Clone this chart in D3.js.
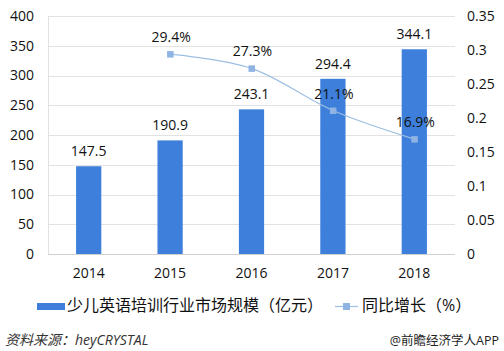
<!DOCTYPE html>
<html>
<head>
<meta charset="utf-8">
<script src="https://cdn.jsdelivr.net/npm/d3@7"></script>
<style>
  body { margin: 0; background: #fff; }
  svg text { font-family: "Open Sans", "Noto Sans CJK SC", sans-serif; }
</style>
</head>
<body>
<div id="chart"></div>
<script>
var years = ["2014", "2015", "2016", "2017", "2018"];
var marketSize = [147.5, 190.9, 243.1, 294.4, 344.1];
var growth = [null, 0.294, 0.273, 0.211, 0.169];
var growthLabels = ["", "29.4%", "27.3%", "21.1%", "16.9%"];
var leftTicks = [0, 50, 100, 150, 200, 250, 300, 350, 400];
var rightTicks = [0, 0.05, 0.1, 0.15, 0.2, 0.25, 0.3, 0.35];

var svg = d3.select("#chart")
  .append("svg")
  .attr("width", 504)
  .attr("height", 351);

// plot area edges (window.top is reserved, so own names)
var plotLeft = 48, plotRight = 455, plotTop = 16, plotBottom = 254;

var x = d3.scaleBand()
  .domain(years)
  .range([plotLeft, plotRight])
  .paddingInner(0.69)
  .paddingOuter(0.345);

var y = d3.scaleLinear().domain([0, 400]).range([plotBottom, plotTop]);
var y2 = d3.scaleLinear().domain([0, 0.35]).range([plotBottom, plotTop]);

// gridlines
svg.append("g")
  .selectAll("line")
  .data(leftTicks)
  .enter()
  .append("line")
  .attr("x1", plotLeft)
  .attr("x2", plotRight)
  .attr("y1", function(d) { return Math.round(y(d)) + 0.5; })
  .attr("y2", function(d) { return Math.round(y(d)) + 0.5; })
  .attr("stroke", function(d) { return d === 0 ? "#d0d0d0" : "#e2e2e2"; })
  .attr("stroke-width", 1);

svg.append("line")
  .attr("x1", plotLeft + 0.5).attr("x2", plotLeft + 0.5)
  .attr("y1", plotTop).attr("y2", plotBottom)
  .attr("stroke", "#e2e2e2");

// left axis
var yAxis = svg.append("g")
  .attr("transform", "translate(34,0)")
  .call(d3.axisLeft(y).tickValues(leftTicks).tickSize(0).tickPadding(0));
yAxis.select(".domain").remove();
yAxis.selectAll("text").style("font-size", "14px").attr("fill", "#111");

// right axis
var yAxis2 = svg.append("g")
  .attr("transform", "translate(467,0)")
  .call(d3.axisRight(y2).tickValues(rightTicks).tickSize(0).tickPadding(0)
    .tickFormat(function(d) { return d3.format("~g")(d); }));
yAxis2.select(".domain").remove();
yAxis2.selectAll("text").style("font-size", "14px").attr("fill", "#111");

// x axis
var xAxis = svg.append("g")
  .attr("transform", "translate(0," + plotBottom + ")")
  .call(d3.axisBottom(x).tickSize(0).tickPadding(14));
xAxis.select(".domain").remove();
xAxis.selectAll("text").style("font-size", "14px").attr("fill", "#111");

// bars
svg.append("g")
  .selectAll("rect")
  .data(marketSize)
  .enter()
  .append("rect")
  .attr("x", function(d, i) { return x(years[i]); })
  .attr("width", x.bandwidth())
  .attr("y", function(d) { return y(d); })
  .attr("height", function(d) { return plotBottom - y(d); })
  .attr("fill", "#3d7fda");

// bar labels
svg.append("g")
  .selectAll("text")
  .data(marketSize)
  .enter()
  .append("text")
  .attr("x", function(d, i) { return x(years[i]) + x.bandwidth() / 2; })
  .attr("y", function(d) { return y(d) - 10; })
  .attr("text-anchor", "middle")
  .style("font-size", "14px")
  .attr("fill", "#111")
  .text(function(d) { return d.toFixed(1); });

// growth line
var pts = years.map(function(yr, i) { return {x: x(yr) + x.bandwidth() / 2, v: growth[i], label: growthLabels[i]}; })
  .filter(function(d) { return d.v !== null; });

svg.append("path")
  .datum(pts)
  .attr("d", d3.line().curve(d3.curveCatmullRom.alpha(0.5))
    .x(function(d) { return d.x; })
    .y(function(d) { return y2(d.v); }))
  .attr("fill", "none")
  .attr("stroke", "#9dbfe3")
  .attr("stroke-width", 1.2);

svg.append("g")
  .selectAll("rect")
  .data(pts)
  .enter()
  .append("rect")
  .attr("x", function(d) { return d.x - 3; })
  .attr("y", function(d) { return y2(d.v) - 3; })
  .attr("width", 6.5)
  .attr("height", 6.5)
  .attr("fill", "#8fb4e3");

svg.append("g")
  .selectAll("text")
  .data(pts)
  .enter()
  .append("text")
  .attr("x", function(d) { return d.x + 1; })
  .attr("y", function(d) { return y2(d.v) - 12; })
  .attr("text-anchor", "middle")
  .style("font-size", "14px")
  .attr("fill", "#111")
  .text(function(d) { return d.label; });

// legend
svg.append("rect")
  .attr("x", 37).attr("y", 303)
  .attr("width", 28).attr("height", 7)
  .attr("fill", "#3d7fda");
svg.append("text")
  .attr("x", 67).attr("y", 311)
  .style("font-size", "16px")
  .attr("fill", "#111")
  .text("少儿英语培训行业市场规模（亿元）");

svg.append("line")
  .attr("x1", 335).attr("x2", 358)
  .attr("y1", 306.5).attr("y2", 306.5)
  .attr("stroke", "#9dbfe3").attr("stroke-width", 1.2);
svg.append("rect")
  .attr("x", 343).attr("y", 303)
  .attr("width", 7).attr("height", 7)
  .attr("fill", "#8fb4e3");
svg.append("text")
  .attr("x", 362).attr("y", 311)
  .style("font-size", "16px")
  .attr("fill", "#111")
  .text("同比增长（%）");

// footer
svg.append("text")
  .attr("x", 5).attr("y", 345)
  .style("font-size", "14px")
  .style("font-style", "italic")
  .attr("fill", "#333")
  .text("资料来源：heyCRYSTAL");

svg.append("text")
  .attr("x", 499).attr("y", 345)
  .attr("text-anchor", "end")
  .style("font-size", "12.5px")
  .attr("fill", "#222")
  .text("@前瞻经济学人APP");
</script>
</body>
</html>
